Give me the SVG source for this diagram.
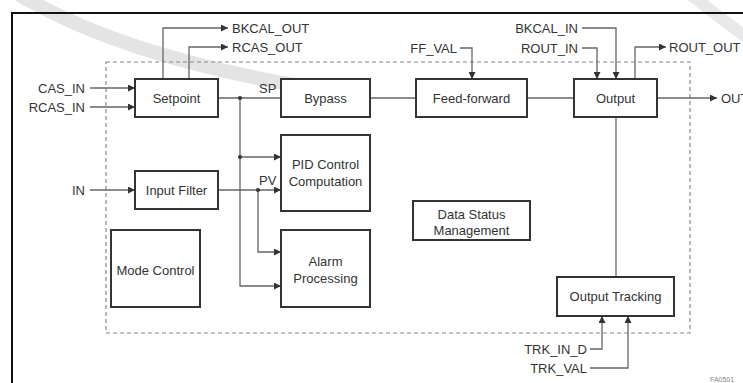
<svg xmlns="http://www.w3.org/2000/svg" width="743" height="383" viewBox="0 0 743 383">
  <defs>
    <marker id="arrow" viewBox="0 0 10 10" refX="10" refY="5" markerWidth="9" markerHeight="7" markerUnits="userSpaceOnUse" orient="auto">
      <path d="M0,0 L10,5 L0,10 z" fill="#333"/>
    </marker>
    <style>
      .box { fill: #fff; stroke: #333; stroke-width: 2; }
      .lbl { font-family: "Liberation Sans", Arial, sans-serif; font-size: 13px; fill: #333; }
      .mid { text-anchor: middle; }
      .end { text-anchor: end; }
      .wire { fill: none; stroke: #666; stroke-width: 1.3; }
      .arr { marker-end: url(#arrow); }
      .dot { fill: #333; }
    </style>
  </defs>

  <rect width="743" height="383" fill="#fff"/>

  <!-- faint seal band in the background -->
  <path d="M18,-6 Q120,55 300,86" fill="none" stroke="#e4e4e4" stroke-width="14" stroke-linecap="round"/>
  <path d="M690,-6 Q720,18 750,40" fill="none" stroke="#e8e8e8" stroke-width="12"/>

  <!-- outer frame -->
  <path d="M12,390 V13 H750" fill="none" stroke="#111" stroke-width="2"/>

  <!-- function block boundary -->
  <rect x="106" y="62" width="584" height="271" fill="none" stroke="#888" stroke-width="1.2" stroke-dasharray="4,3"/>

  <g id="connectors">
    <path class="wire arr" d="M90,88 H135"/>
    <path class="wire arr" d="M90,107 H135"/>
    <path class="wire arr" d="M163,79 V28 H228"/>
    <path class="wire arr" d="M189,79 V47 H228"/>
    <path class="wire" d="M218,98 H281"/>
    <path class="wire" d="M370,98 H416"/>
    <path class="wire" d="M527,98 H574"/>
    <path class="wire arr" d="M657,98 H717"/>
    <path class="wire arr" d="M635,79 V47 H666"/>
    <path class="wire arr" d="M582,28 H616 V79"/>
    <path class="wire arr" d="M582,48 H597 V79"/>
    <path class="wire arr" d="M460,48 H472 V79"/>
    <path class="wire arr" d="M240,98 V286 H281"/>
    <path class="wire arr" d="M240,157 H281"/>
    <path class="wire arr" d="M90,190 H135"/>
    <path class="wire arr" d="M218,190 H281"/>
    <path class="wire arr" d="M258,190 V252 H281"/>
    <path class="wire" d="M616,117 V277"/>
    <path class="wire arr" d="M590,349 H602 V316"/>
    <path class="wire arr" d="M590,368 H628 V316"/>
    <circle class="dot" cx="240" cy="98" r="2"/>
    <circle class="dot" cx="240" cy="157" r="2"/>
    <circle class="dot" cx="258" cy="190" r="2"/>
  </g>

  <g id="setpoint">
    <rect class="box" x="135" y="79" width="83" height="38"/>
    <text class="lbl mid" x="176.5" y="102.5">Setpoint</text>
  </g>
  <g id="bypass">
    <rect class="box" x="281" y="79" width="89" height="38"/>
    <text class="lbl mid" x="325.5" y="103">Bypass</text>
  </g>
  <g id="feed-forward">
    <rect class="box" x="416" y="79" width="111" height="38"/>
    <text class="lbl mid" x="471.5" y="102.5">Feed-forward</text>
  </g>
  <g id="output">
    <rect class="box" x="574" y="79" width="83" height="38"/>
    <text class="lbl mid" x="615.5" y="103">Output</text>
  </g>
  <g id="pid">
    <rect class="box" x="281" y="135" width="89" height="76"/>
    <text class="lbl mid" x="325.5" y="168.5">PID Control</text>
    <text class="lbl mid" x="325.5" y="185.5">Computation</text>
  </g>
  <g id="input-filter">
    <rect class="box" x="135" y="171" width="83" height="38"/>
    <text class="lbl mid" x="176.5" y="194.5">Input Filter</text>
  </g>
  <g id="alarm">
    <rect class="box" x="281" y="230" width="89" height="77"/>
    <text class="lbl mid" x="325.5" y="265.5">Alarm</text>
    <text class="lbl mid" x="325.5" y="282.5">Processing</text>
  </g>
  <g id="mode-control">
    <rect class="box" x="111" y="230" width="89" height="77"/>
    <text class="lbl mid" x="155.5" y="274.5">Mode Control</text>
  </g>
  <g id="data-status">
    <rect class="box" x="413" y="201" width="117" height="39"/>
    <text class="lbl mid" x="471.5" y="218.5">Data Status</text>
    <text class="lbl mid" x="471.5" y="234.5">Management</text>
  </g>
  <g id="output-tracking">
    <rect class="box" x="557" y="277" width="117" height="39"/>
    <text class="lbl mid" x="615.5" y="301">Output Tracking</text>
  </g>

  <g id="signals">
    <text class="lbl end" x="85" y="92.5">CAS_IN</text>
    <text class="lbl end" x="85" y="111.5">RCAS_IN</text>
    <text class="lbl end" x="85" y="194.5">IN</text>
    <text class="lbl" x="232" y="32.5">BKCAL_OUT</text>
    <text class="lbl" x="232" y="51.5">RCAS_OUT</text>
    <text class="lbl end" x="457" y="52.5">FF_VAL</text>
    <text class="lbl end" x="578" y="32.5">BKCAL_IN</text>
    <text class="lbl end" x="578" y="52.5">ROUT_IN</text>
    <text class="lbl" x="669" y="51.5">ROUT_OUT</text>
    <text class="lbl" x="721" y="102.5">OUT</text>
    <text class="lbl" x="259" y="92.5">SP</text>
    <text class="lbl" x="259" y="184.5">PV</text>
    <text class="lbl end" x="587" y="353.5">TRK_IN_D</text>
    <text class="lbl end" x="587" y="372.5">TRK_VAL</text>
    <text x="710" y="382" font-family="Liberation Sans, Arial, sans-serif" font-size="7" fill="#888">FA0501</text>
  </g>
</svg>
